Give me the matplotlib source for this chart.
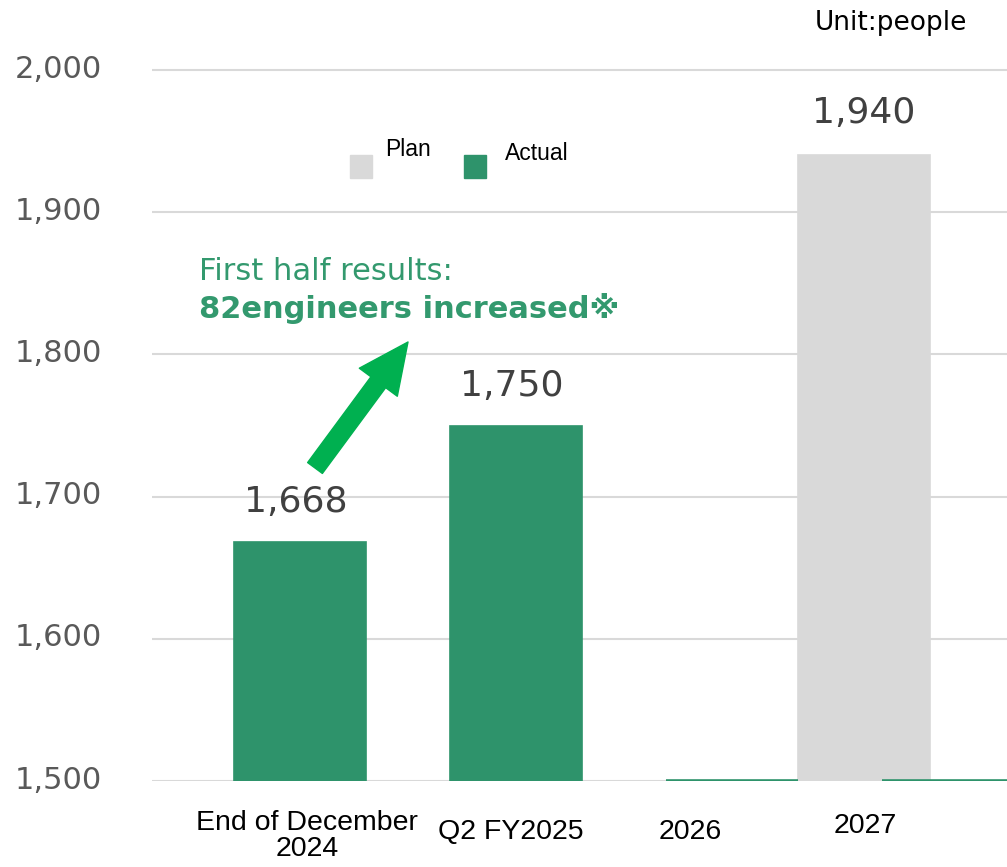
import matplotlib
matplotlib.use("Agg")
import matplotlib.pyplot as plt
import matplotlib.transforms as mtransforms
from matplotlib.patches import Rectangle

# data
categories = ["End of December\n2024", "Q2 FY2025", "2026", "2027"]
actual = [1668, 1750, 1500, 1500]      # 2026/2027 actual not yet known (zero height)
plan = [None, None, 1500, 1940]
base = 1500
yticks = [1500, 1600, 1700, 1800, 1900, 2000]

W, H = 1007, 867
green = "#2E936B"
gray = "#D9D9D9"
arrow_green = "#00B050"
text_green = "#33996E"

fig = plt.figure(figsize=(W / 100, H / 100), dpi=100)

def fx(x):
    return x / W

def fy(y):
    return 1 - y / H

# axes placed in pixel terms: 1500 at y=781, 100 people = 142.2 px
px_per_unit = 142.2 / 100
ytop = base + 781 / px_per_unit
ax = fig.add_axes([fx(152), fy(781), fx(1007) - fx(152), 781 / H])
ax.set_ylim(base, ytop)
ax.set_xlim((152 - 300) / 216, (1007 - 300) / 216)

bw = 132 / 216
plan_shift = -0.39
xs = list(range(len(categories)))

for x, v in zip(xs, plan):
    if v is None:
        continue
    ax.bar(x + plan_shift, v - base, bottom=base, width=bw, color=gray,
           edgecolor=gray, linewidth=1.2, zorder=2)
for x, v in zip(xs, actual):
    lw = 1.2 if v > base else 2.6
    ax.bar(x, v - base, bottom=base, width=bw, color=green,
           edgecolor=green, linewidth=lw, zorder=3)

# value labels
for x, v in zip(xs, actual):
    if v > base:
        ax.text(x - 0.02, v + 16, f"{v:,}", ha="center", va="bottom",
                fontsize=26, color="#404040")
for x, v in zip(xs, plan):
    if v is not None and v > base:
        ax.text(x + plan_shift, v + 18, f"{v:,}", ha="center", va="bottom",
                fontsize=26, color="#404040")

# grid and axes styling
ax.set_yticks(yticks)
ax.set_yticklabels([f"{t:,}" for t in yticks], fontsize=22, color="#595959")
ax.tick_params(axis="y", length=0, pad=36)
up = mtransforms.ScaledTranslation(0, 4 / 100, fig.dpi_scale_trans)
for lab in ax.get_yticklabels():
    lab.set_transform(lab.get_transform() + up)
ax.grid(axis="y", color=gray, linewidth=1.5, zorder=0)
ax.set_axisbelow(True)
for s in ax.spines.values():
    s.set_visible(False)
ax.set_xticks([])

# category labels (placed by hand like the original text boxes)
label_px = [307, 511, 690, 865]
label_py = [836, 832, 832, 826]
for name, lx, ly in zip(categories, label_px, label_py):
    fig.text(fx(lx), fy(ly), name, ha="center", va="center", fontsize=20.5,
             family="Liberation Sans", color="black", linespacing=1.05)

# legend
fig.add_artist(Rectangle((fx(350), fy(178)), fx(22), 23 / H, color=gray,
                         transform=fig.transFigure))
fig.add_artist(Rectangle((fx(464), fy(178)), fx(22), 23 / H, color=green,
                         transform=fig.transFigure))
fig.text(fx(385), fy(150), "Plan", fontsize=16.5, family="Liberation Sans",
         va="center", ha="left")
fig.text(fx(505), fy(153), "Actual", fontsize=16.5, family="Liberation Sans",
         va="center", ha="left")

# unit
fig.text(fx(967), fy(23), "Unit:people", ha="right", va="center",
         fontsize=19)

# annotation
fig.text(fx(199), fy(271), "First half results:", ha="left", va="center",
         fontsize=22, color=text_green)
fig.text(fx(199), fy(308), "82engineers increased\u203b", ha="left", va="center",
         fontsize=22, color=text_green, fontweight="bold",
         family=["DejaVu Sans", "Noto Sans CJK JP"])

ax.annotate("", xy=(408, H - 342), xycoords="figure pixels",
            xytext=(315, H - 468), textcoords="figure pixels",
            arrowprops=dict(arrowstyle="simple,head_length=0.9,head_width=0.85,tail_width=0.33",
                            color=arrow_green, mutation_scale=40,
                            shrinkA=0, shrinkB=0))

fig.savefig("out.png", dpi=100)
